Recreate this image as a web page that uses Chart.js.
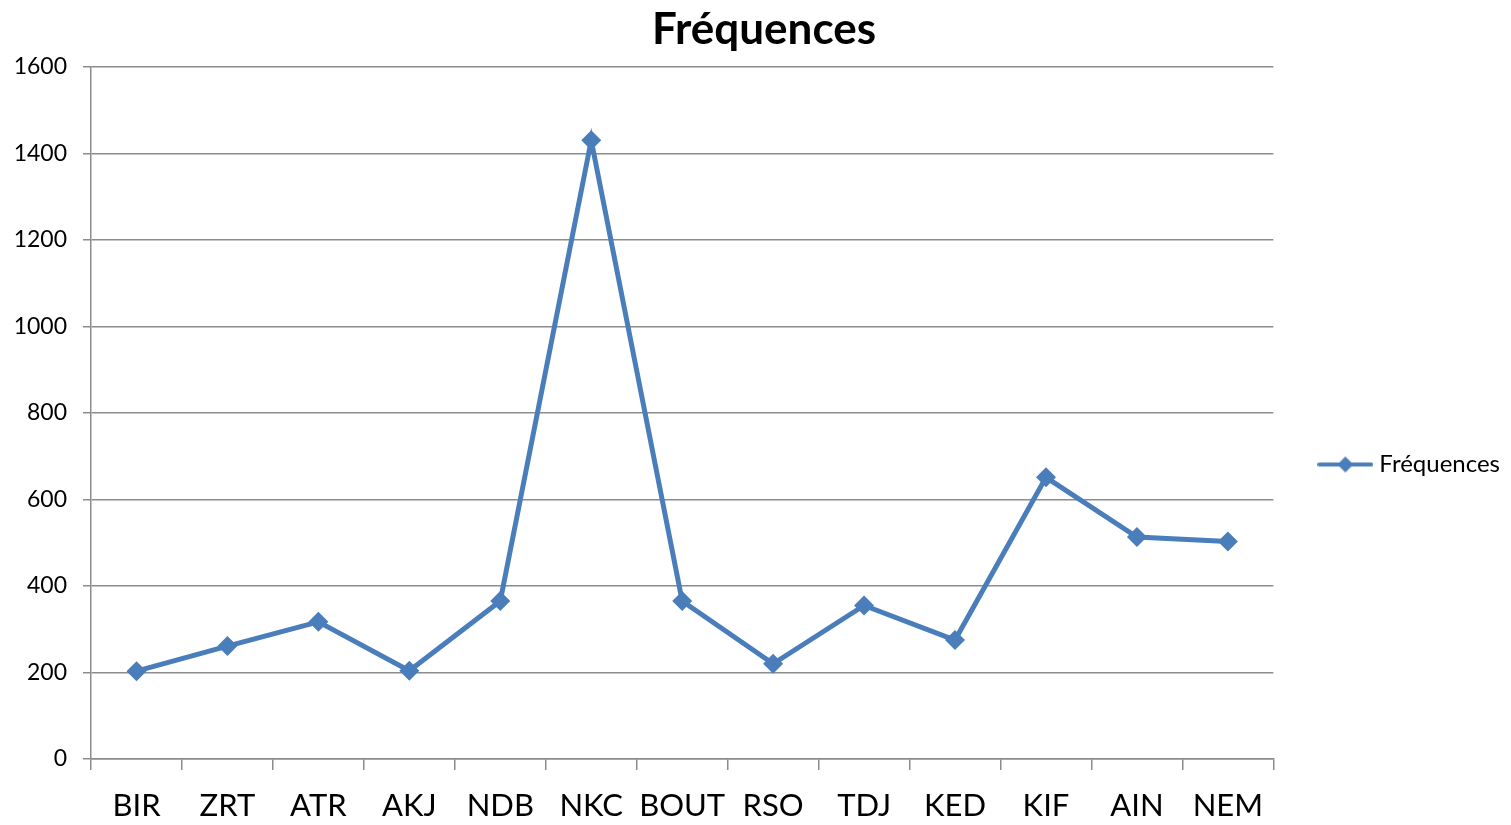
<!DOCTYPE html>
<html>
<head>
<meta charset="utf-8">
<script src="https://cdn.jsdelivr.net/npm/chart.js@4"></script>
<style>
    html, body { margin: 0; padding: 0; background: #fff; }
    #wrap { width: 1511px; height: 825px; }
</style>
</head>
<body>
<div id="wrap"><canvas id="chart"></canvas></div>
<script>
const categories = ["BIR", "ZRT", "ATR", "AKJ", "NDB", "NKC", "BOUT", "RSO", "TDJ", "KED", "KIF", "AIN", "NEM"];
const frequences = [203, 261, 317, 204, 365, 1430, 365, 220, 355, 275, 651, 513, 503];
const seriesName = "Fréquences";
const chartTitle = "Fréquences";

const blue = "#4a7ebb";
const gridGray = "#8c8c8c";
const fontFamily = "Lato, 'Noto Sans', sans-serif";

// legend icon: line with a diamond in the middle
function legendIcon() {
    const c = document.createElement("canvas");
    c.width = 56;
    c.height = 20;
    const ctx = c.getContext("2d");
    ctx.strokeStyle = blue;
    ctx.lineWidth = 4;
    ctx.lineCap = "round";
    ctx.beginPath();
    ctx.moveTo(2, 10);
    ctx.lineTo(54, 10);
    ctx.stroke();
    ctx.fillStyle = blue;
    ctx.beginPath();
    ctx.moveTo(28, 2);
    ctx.lineTo(36, 10);
    ctx.lineTo(28, 18);
    ctx.lineTo(20, 10);
    ctx.closePath();
    ctx.fill();
    return c;
}

// nudge legend and title to where the original has them
const boxShift = {
    id: "boxShift",
    afterLayout(chart) {
        const lg = chart.legend;
        if (lg) {
            lg.top += 52;
            lg.bottom += 52;
            lg.left += 24;
            lg.right += 24;
        }
        const t = chart.titleBlock;
        if (t) {
            t.left += 21;
            t.right += 21;
        }
    }
};

new Chart(document.getElementById("chart"), {
    type: "line",
    data: {
        labels: categories,
        datasets: [{
            label: seriesName,
            data: frequences,
            borderColor: blue,
            backgroundColor: blue,
            borderWidth: 5,
            pointStyle: "rectRot",
            pointRadius: 10,
            pointHoverRadius: 10,
            pointBackgroundColor: blue,
            pointBorderWidth: 0,
            tension: 0
        }]
    },
    plugins: [boxShift],
    options: {
        responsive: true,
        maintainAspectRatio: false,
        animation: false,
        layout: { padding: { left: 0, right: 25, top: 0, bottom: 0 } },
        plugins: {
            title: {
                display: true,
                text: chartTitle,
                color: "#000",
                font: { family: fontFamily, size: 44, weight: "bold" },
                padding: { top: 3, bottom: 11 }
            },
            legend: {
                position: "right",
                labels: {
                    usePointStyle: true,
                    pointStyle: legendIcon(),
                    pointStyleWidth: 44,
                    color: "#000",
                    font: { family: fontFamily, size: 24 },
                    padding: 26
                }
            },
            tooltip: { enabled: false }
        },
        scales: {
            x: {
                offset: true,
                afterFit: s => { s.height = 66; },
                grid: {
                    offset: true,
                    drawOnChartArea: false,
                    drawTicks: true,
                    tickLength: 11,
                    color: gridGray,
                    lineWidth: 1.5
                },
                border: { color: gridGray, width: 1.5 },
                ticks: {
                    color: "#000",
                    font: { family: fontFamily, size: 31, lineHeight: 1 },
                    padding: 20,
                    maxRotation: 0,
                    autoSkip: false
                }
            },
            y: {
                min: 0,
                max: 1600,
                afterFit: s => { s.width = 91; },
                grid: {
                    color: gridGray,
                    lineWidth: 1.5,
                    tickLength: 8
                },
                border: { color: gridGray, width: 1.5 },
                ticks: {
                    stepSize: 200,
                    color: "#000",
                    font: { family: fontFamily, size: 23 },
                    padding: 16,
                    callback: v => String(v)
                }
            }
        }
    }
});
</script>
</body>
</html>
